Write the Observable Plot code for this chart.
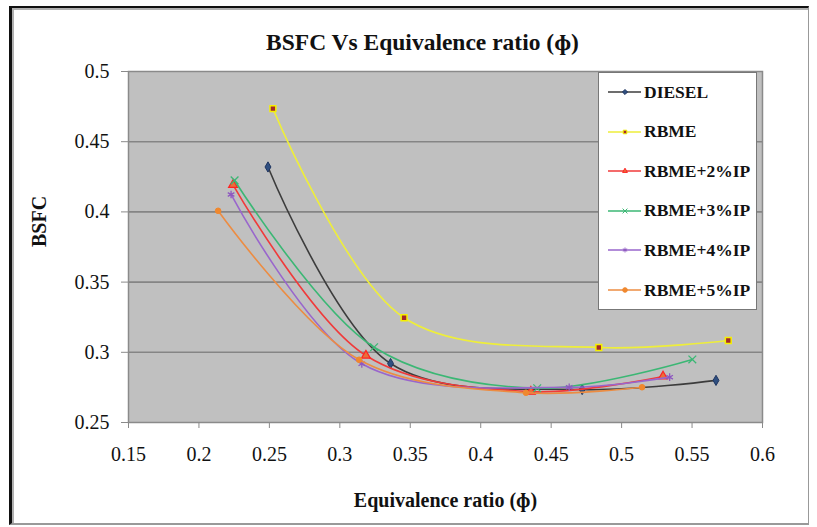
<!DOCTYPE html>
<html>
<head>
<meta charset="utf-8">
<script src="https://cdn.jsdelivr.net/npm/d3@7"></script>
<script src="https://cdn.jsdelivr.net/npm/@observablehq/plot@0.6"></script>
<style>
  html, body { margin: 0; padding: 0; background: #fff; }
  #wrap { position: relative; width: 817px; height: 527px; overflow: hidden; font-family: "Liberation Serif", "Times New Roman", serif; }
  #border { position: absolute; left: 9px; top: 6px; width: 796px; height: 515px;
            border-left: 3px solid #111; border-top: 2px solid #111; border-right: 1px solid #999; border-bottom: 2px solid #999;
            box-shadow: inset 2px 2px 0 #b0b0b0; pointer-events: none; }
  #legend { position: absolute; left: 598px; top: 72px; width: 157px; height: 236px; background: #fff;
            border: 1.5px solid #777; box-sizing: content-box; }
  .item { position: absolute; left: 0; height: 20px; display: flex; align-items: center; }
  .item span { font-family: "Liberation Serif", serif; font-weight: bold; font-size: 17.5px; margin-left: 1px; color: #111; white-space: nowrap; }
</style>
</head>
<body>
<div id="wrap"><div id="chart"></div><div id="legend"></div><div id="border"></div></div>
<script>
// ---- data ----
const seriesNames = ["DIESEL", "RBME", "RBME+2%IP", "RBME+3%IP", "RBME+4%IP", "RBME+5%IP"];
const phiDiesel = [0.249, 0.336, 0.472, 0.567];
const bsfcDiesel = [0.432, 0.292, 0.2735, 0.280];
const phiRBME = [0.2525, 0.3456, 0.4838, 0.5757];
const bsfcRBME = [0.4736, 0.3246, 0.3034, 0.3084];
const phiIP2 = [0.2242, 0.3185, 0.4356, 0.5294];
const bsfcIP2 = [0.4193, 0.2977, 0.2720, 0.2828];
const phiIP3 = [0.2253, 0.3243, 0.4401, 0.5502];
const bsfcIP3 = [0.4224, 0.3036, 0.2744, 0.2949];
const phiIP4 = [0.2228, 0.3156, 0.4628, 0.5341];
const bsfcIP4 = [0.4124, 0.2918, 0.2751, 0.2823];
const phiIP5 = [0.2136, 0.3137, 0.4321, 0.5145];
const bsfcIP5 = [0.4008, 0.2947, 0.2712, 0.2751];
const xTicks = [0.15, 0.2, 0.25, 0.3, 0.35, 0.4, 0.45, 0.5, 0.55, 0.6];
const yTicks = [0.25, 0.3, 0.35, 0.4, 0.45, 0.5];
const gridTicks = [0.3, 0.35, 0.4, 0.45];
const titleText = "BSFC Vs Equivalence ratio (ɸ)";
const xLabel = "Equivalence ratio (ɸ)";
const yLabel = "BSFC";

// ---- styles ----
const styles = [
  {line: "#3c3c3c", symbol: "diamond", fill: "#2f4f80", stroke: "#1f3560", r: 3.1, sw: 1},
  {line: "#eeee3a", symbol: "square", fill: "#a3282a", stroke: "#f5f000", r: 3.3, sw: 1.5},
  {line: "#f03a3a", symbol: "triangle", fill: "#e8703a", stroke: "#ff2222", r: 3.3, sw: 1.2},
  {line: "#3bb774", symbol: "times", fill: "none", stroke: "#3bb774", r: 3.6, sw: 1.3},
  {line: "#9966cc", symbol: "asterisk", fill: "none", stroke: "#8e58c0", r: 3.6, sw: 1.3},
  {line: "#ec8c42", symbol: "circle", fill: "#f0882e", stroke: "#f0882e", r: 2.8, sw: 1}
];

const phis = [phiDiesel, phiRBME, phiIP2, phiIP3, phiIP4, phiIP5];
const bsfcs = [bsfcDiesel, bsfcRBME, bsfcIP2, bsfcIP3, bsfcIP4, bsfcIP5];
const rows = seriesNames.flatMap((s, i) => phis[i].map((p, j) => ({series: s, phi: p, bsfc: bsfcs[i][j]})));

const seriesMarks = seriesNames.flatMap((s, i) => {
  const d = rows.filter(r => r.series === s);
  const st = styles[i];
  return [
    Plot.line(d, {x: "phi", y: "bsfc", stroke: st.line, strokeWidth: 1.6, curve: "catmull-rom"}),
    Plot.dot(d, {x: "phi", y: "bsfc", symbol: st.symbol, r: st.r, fill: st.fill, stroke: st.stroke, strokeWidth: st.sw})
  ];
});

const chart = Plot.plot({
  width: 817,
  height: 527,
  marginLeft: 128,
  marginRight: 55,
  marginTop: 71,
  marginBottom: 105,
  style: {fontFamily: "Liberation Serif, serif", background: "transparent", color: "#111"},
  x: {domain: [0.15, 0.6]},
  y: {domain: [0.25, 0.5]},
  marks: [
    Plot.frame({fill: "#c0c0c0"}),
    Plot.ruleY(gridTicks, {stroke: "#858585", strokeWidth: 1.6}),
    Plot.frame({stroke: "#8a8a8a", strokeWidth: 1.5}),
    ...seriesMarks,
    Plot.axisX({ticks: xTicks, tickFormat: d => String(d), tickSize: 6, tickPadding: 18, fontSize: 20, stroke: "#8a8a8a", fill: "#111", label: null}),
    Plot.axisY({ticks: yTicks, tickFormat: d => String(d), tickSize: 7, tickPadding: 12, fontSize: 20, stroke: "#8a8a8a", fill: "#111", label: null}),
    Plot.text([titleText], {frameAnchor: "top", dx: -23, dy: -29, lineAnchor: "middle", fontSize: 23.5, fontWeight: "bold", fill: "#111"}),
    Plot.text([xLabel], {frameAnchor: "bottom", dy: 78, lineAnchor: "middle", fontSize: 20, fontWeight: "bold", fill: "#111"}),
    Plot.text([yLabel], {frameAnchor: "left", dx: -89, rotate: -90, lineAnchor: "middle", fontSize: 20, fontWeight: "bold", fill: "#111"})
  ]
});
document.getElementById("chart").appendChild(chart);

// ---- legend ----
const symMap = {diamond: d3.symbolDiamond2, square: d3.symbolSquare2, triangle: d3.symbolTriangle2, times: d3.symbolTimes, asterisk: d3.symbolAsterisk, circle: d3.symbolCircle};
const legend = document.getElementById("legend");
seriesNames.forEach((s, i) => {
  const st = styles[i];
  const item = document.createElement("div");
  item.className = "item";
  item.style.top = (9 + i * 39.6) + "px";
  const ns = "http://www.w3.org/2000/svg";
  const svg = document.createElementNS(ns, "svg");
  svg.setAttribute("width", 44); svg.setAttribute("height", 20);
  const ln = document.createElementNS(ns, "line");
  ln.setAttribute("x1", 9); ln.setAttribute("x2", 42); ln.setAttribute("y1", 10); ln.setAttribute("y2", 10);
  ln.setAttribute("stroke", st.line); ln.setAttribute("stroke-width", 1.6);
  svg.appendChild(ln);
  const p = document.createElementNS(ns, "path");
  p.setAttribute("d", d3.symbol(symMap[st.symbol], Math.PI * 2.3 * 2.3)());
  p.setAttribute("transform", "translate(26,10)");
  p.setAttribute("fill", st.fill); p.setAttribute("stroke", st.stroke); p.setAttribute("stroke-width", 1);
  svg.appendChild(p);
  item.appendChild(svg);
  const t = document.createElement("span");
  t.textContent = s;
  item.appendChild(t);
  legend.appendChild(item);
});
</script>
</body>
</html>
